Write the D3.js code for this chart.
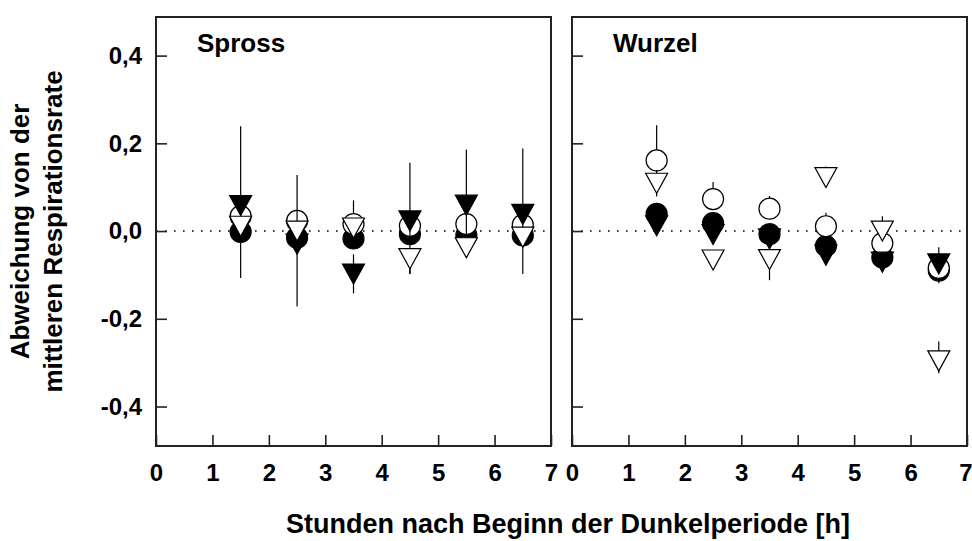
<!DOCTYPE html>
<html>
<head>
<meta charset="utf-8">
<script src="https://cdn.jsdelivr.net/npm/d3@7"></script>
<style>
  html, body { margin: 0; padding: 0; background: #fff; }
  svg { display: block; font-family: "Liberation Sans", Arial, sans-serif; }
</style>
</head>
<body>
<svg id="chart" width="972" height="541"></svg>
<script>
// ---------------- data ----------------
const hours = [1.5, 2.5, 3.5, 4.5, 5.5, 6.5];
const xTickValues = [0, 1, 2, 3, 4, 5, 6, 7];
const xTickLabels = ["0", "1", "2", "3", "4", "5", "6", "7"];
const yTickValues = [-0.4, -0.2, 0, 0.2, 0.4];
const yTickLabels = ["-0,4", "-0,2", "0,0", "0,2", "0,4"];
const panelTitles = ["Spross", "Wurzel"];
const yTitleLines = ["Abweichung von der", "mittleren Respirationsrate"];
const xTitle = "Stunden nach Beginn der Dunkelperiode [h]";

// Spross
const sprossFilledCircle     = [-0.002, -0.015, -0.017, -0.007, -0.010, -0.010];
const sprossOpenCircle       = [0.034, 0.023, 0.016, 0.012, 0.016, 0.014];
const sprossFilledTri        = [0.058, -0.030, -0.098, 0.023, 0.059, 0.038];
const sprossOpenTri          = [0.011, 0.000, 0.007, -0.063, -0.038, -0.014];
const sprossFilledCircleErrUp = [0, 0, 0, 0, 0, 0];
const sprossFilledCircleErrDn = [0, 0, 0, 0, 0, 0];
const sprossOpenCircleErrUp  = [0, 0, 0.054, 0, 0, 0];
const sprossOpenCircleErrDn  = [0, 0, 0, 0, 0, 0];
const sprossFilledTriErrUp   = [0.181, 0.158, 0.045, 0.133, 0.127, 0.150];
const sprossFilledTriErrDn   = [0.165, 0.142, 0.044, 0.121, 0.090, 0.136];
const sprossOpenTriErrUp     = [0, 0, 0, 0, 0, 0];
const sprossOpenTriErrDn     = [0, 0, 0, 0.035, 0, 0];

// Wurzel
const wurzelFilledCircle     = [0.039, 0.018, -0.007, -0.034, -0.060, -0.090];
const wurzelOpenCircle       = [0.161, 0.073, 0.051, 0.011, -0.028, -0.084];
const wurzelFilledTri        = [0.012, -0.008, -0.018, -0.055, -0.071, -0.075];
const wurzelOpenTri          = [0.109, -0.066, -0.065, 0.122, 0.000, -0.296];
const wurzelFilledCircleErrUp = [0, 0, 0, 0, 0, 0];
const wurzelFilledCircleErrDn = [0, 0, 0, 0, 0, 0.029];
const wurzelOpenCircleErrUp  = [0.080, 0.039, 0.029, 0.031, 0, 0];
const wurzelOpenCircleErrDn  = [0, 0, 0, 0, 0, 0];
const wurzelFilledTriErrUp   = [0, 0, 0, 0, 0, 0.038];
const wurzelFilledTriErrDn   = [0, 0, 0, 0, 0, 0];
const wurzelOpenTriErrUp     = [0.030, 0, 0, 0.025, 0.034, 0.044];
const wurzelOpenTriErrDn     = [0.030, 0, 0.047, 0, 0, 0.028];

// ---------------- layout ----------------
const svg = d3.select("#chart");
const plotTop = 17, plotBottom = 446;
const panelX = [[156, 551], [572, 967]];

const y = d3.scaleLinear().domain([-0.49, 0.488]).range([plotBottom, plotTop]);

function buildSeries(fc, oc, ft, ot, fcU, fcD, ocU, ocD, ftU, ftD, otU, otD) {
  return [
    { shape: "circle", filled: true,  vals: fc, up: fcU, dn: fcD },
    { shape: "circle", filled: false, vals: oc, up: ocU, dn: ocD },
    { shape: "tri",    filled: true,  vals: ft, up: ftU, dn: ftD },
    { shape: "tri",    filled: false, vals: ot, up: otU, dn: otD }
  ];
}
const panelSeries = [
  buildSeries(sprossFilledCircle, sprossOpenCircle, sprossFilledTri, sprossOpenTri,
    sprossFilledCircleErrUp, sprossFilledCircleErrDn, sprossOpenCircleErrUp, sprossOpenCircleErrDn,
    sprossFilledTriErrUp, sprossFilledTriErrDn, sprossOpenTriErrUp, sprossOpenTriErrDn),
  buildSeries(wurzelFilledCircle, wurzelOpenCircle, wurzelFilledTri, wurzelOpenTri,
    wurzelFilledCircleErrUp, wurzelFilledCircleErrDn, wurzelOpenCircleErrUp, wurzelOpenCircleErrDn,
    wurzelFilledTriErrUp, wurzelFilledTriErrDn, wurzelOpenTriErrUp, wurzelOpenTriErrDn)
];

const triPath = "M-11,-10L11,-10L0,10Z";

panelSeries.forEach((series, p) => {
  const x = d3.scaleLinear().domain([0, 7]).range(panelX[p]);
  const g = svg.append("g");

  // zero dotted line
  g.append("line")
    .attr("x1", x(0)).attr("x2", x(7))
    .attr("y1", y(0)).attr("y2", y(0))
    .attr("stroke", "#000").attr("stroke-width", 1.6)
    .attr("stroke-dasharray", "1.6 7.4");

  // series: error bars + markers
  series.forEach(s => {
    const sg = g.append("g");
    const errData = hours.map((h, i) => ({ h, v: s.vals[i], u: s.up[i], d: s.dn[i] }))
      .filter(d => d.u > 0 || d.d > 0);
    sg.selectAll("line.err").data(errData)
      .join("line").attr("class", "err")
      .attr("x1", d => x(d.h)).attr("x2", d => x(d.h))
      .attr("y1", d => y(d.v + d.u)).attr("y2", d => y(d.v - d.d))
      .attr("stroke", "#000").attr("stroke-width", 1.2);
    const pts = hours.map((h, i) => ({ h, v: s.vals[i] }));
    if (s.shape === "circle") {
      sg.selectAll("circle").data(pts).join("circle")
        .attr("cx", d => x(d.h)).attr("cy", d => y(d.v)).attr("r", 10.5)
        .attr("fill", s.filled ? "#000" : "#fff")
        .attr("stroke", "#000").attr("stroke-width", 1.2);
    } else {
      sg.selectAll("path").data(pts).join("path")
        .attr("d", triPath)
        .attr("transform", d => `translate(${x(d.h)},${y(d.v)})`)
        .attr("fill", s.filled ? "#000" : "#fff")
        .attr("stroke", "#000").attr("stroke-width", 1.2);
    }
  });

  // axes
  const xAxis = d3.axisBottom(x).tickValues(xTickValues)
    .tickFormat((d, i) => xTickLabels[i])
    .tickSizeInner(-11).tickSizeOuter(0).tickPadding(18);
  const xg = g.append("g").attr("transform", `translate(0,${plotBottom})`).call(xAxis);
  xg.select(".domain").remove();
  xg.selectAll("line").attr("stroke", "#222").attr("stroke-width", 1.6);
  xg.selectAll("text").attr("font-size", 24).attr("font-weight", "bold")
    .attr("fill", "#000").attr("font-family", "'Liberation Sans', Arial, sans-serif");
  if (p === 1) {
    // keep the last label inside the picture
    xg.selectAll("text").filter(d => d === 7).attr("text-anchor", "end").attr("x", 5);
  }

  const yAxis = d3.axisLeft(y).tickValues(yTickValues)
    .tickFormat((d, i) => p === 0 ? yTickLabels[i] : "")
    .tickSizeInner(-11).tickSizeOuter(0).tickPadding(14);
  const yg = g.append("g").attr("transform", `translate(${x(0)},0)`).call(yAxis);
  yg.select(".domain").remove();
  yg.selectAll("line").attr("stroke", "#222").attr("stroke-width", 1.6);
  yg.selectAll("text").attr("font-size", 24).attr("font-weight", "bold")
    .attr("fill", "#000").attr("font-family", "'Liberation Sans', Arial, sans-serif");

  // frame
  g.append("rect")
    .attr("x", x(0)).attr("y", plotTop)
    .attr("width", x(7) - x(0)).attr("height", plotBottom - plotTop)
    .attr("fill", "none").attr("stroke", "#222").attr("stroke-width", 2);

  // panel title
  g.append("text")
    .attr("x", x(0) + 41).attr("y", 52)
    .attr("font-size", 26).attr("font-weight", "bold")
    .text(panelTitles[p]);
});

// y axis title
const yt = svg.append("text")
  .attr("transform", `translate(0,${(plotTop + plotBottom) / 2}) rotate(-90)`)
  .attr("text-anchor", "middle")
  .attr("font-size", 26).attr("font-weight", "bold");
yt.append("tspan").attr("x", 0).attr("y", 29).text(yTitleLines[0]);
yt.append("tspan").attr("x", 0).attr("y", 62).text(yTitleLines[1]);

// x axis title
svg.append("text")
  .attr("x", 568).attr("y", 533)
  .attr("text-anchor", "middle")
  .attr("font-size", 27).attr("font-weight", "bold")
  .text(xTitle);
</script>
</body>
</html>
